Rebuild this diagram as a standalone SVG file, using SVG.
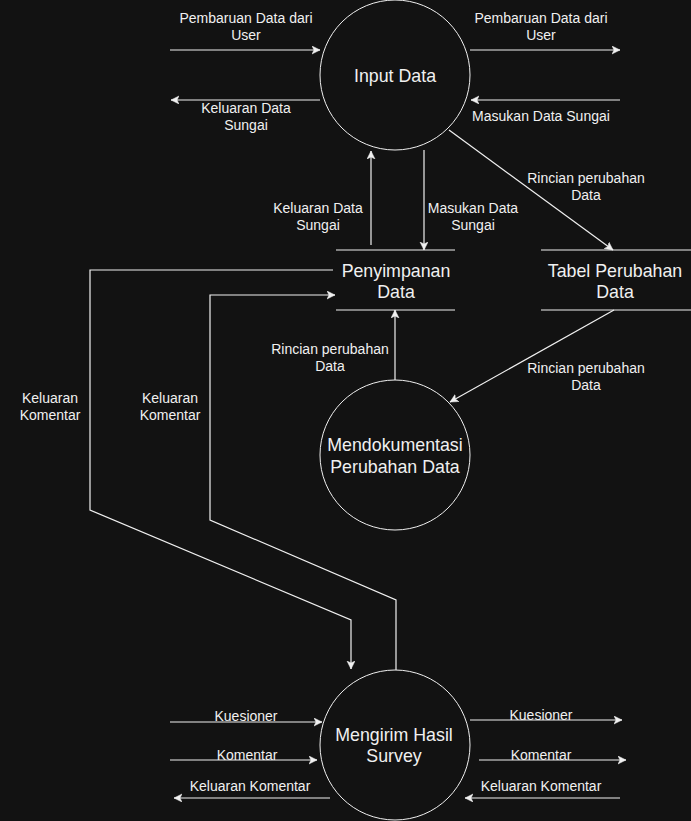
<svg xmlns="http://www.w3.org/2000/svg" width="691" height="821" viewBox="0 0 691 821">
<defs>
<marker id="arr" markerUnits="userSpaceOnUse" markerWidth="10" markerHeight="10" refX="8" refY="4" orient="auto">
<path d="M0,0 L8,4 L0,8 L2,4 z" fill="#f0f0f0" stroke="#f0f0f0" stroke-width="0.5"/>
</marker>
<style>
.bg{fill:#121212}
.node{fill:#121212;stroke:#f0f0f0;stroke-width:1}
.store{stroke:#f0f0f0;stroke-width:1.2;fill:none}
.nt{font-family:"Liberation Sans",Arial,sans-serif;font-size:17.8px;fill:#f0f0f0;text-anchor:middle}
.lt{font-family:"Liberation Sans",Arial,sans-serif;font-size:14px;fill:#f0f0f0;text-anchor:middle}
.edge{fill:none;stroke:#f0f0f0;stroke-width:1.2;marker-end:url(#arr)}
</style>
</defs>
<rect class="bg" x="0" y="0" width="691" height="821"/>

<g id="connectors">
<path class="edge" d="M170,50 H320"/>
<path class="edge" d="M470,50 H620"/>
<path class="edge" d="M320,100 H171"/>
<path class="edge" d="M620,100 H471"/>
<path class="edge" d="M371,245 V151"/>
<path class="edge" d="M424,150 V250"/>
<path class="edge" d="M449,130 L613,250"/>
<path class="edge" d="M614,310 L450,402"/>
<path class="edge" d="M395,380 V310"/>
<path class="edge" d="M333,270 H90 V510 L351,620 V669"/>
<path class="edge" d="M396,670 V600 L210,520 V295 H335"/>
<path class="edge" d="M170,722 H322"/>
<path class="edge" d="M470,720 H622"/>
<path class="edge" d="M170,760 H317"/>
<path class="edge" d="M479,760 H626"/>
<path class="edge" d="M330,798 H174"/>
<path class="edge" d="M620,798 H465"/>

<text class="lt" x="246" y="23">Pembaruan Data dari</text>
<text class="lt" x="246" y="40">User</text>
<text class="lt" x="541" y="23">Pembaruan Data dari</text>
<text class="lt" x="541" y="40">User</text>
<text class="lt" x="246" y="113">Keluaran Data</text>
<text class="lt" x="246" y="130">Sungai</text>
<text class="lt" x="541" y="121">Masukan Data Sungai</text>
<text class="lt" x="318" y="213">Keluaran Data</text>
<text class="lt" x="318" y="230">Sungai</text>
<text class="lt" x="473" y="213">Masukan Data</text>
<text class="lt" x="473" y="230">Sungai</text>
<text class="lt" x="586" y="183">Rincian perubahan</text>
<text class="lt" x="586" y="200">Data</text>
<text class="lt" x="330" y="354">Rincian perubahan</text>
<text class="lt" x="330" y="371">Data</text>
<text class="lt" x="586" y="373">Rincian perubahan</text>
<text class="lt" x="586" y="390">Data</text>
<text class="lt" x="50" y="403">Keluaran</text>
<text class="lt" x="50" y="420">Komentar</text>
<text class="lt" x="170" y="403">Keluaran</text>
<text class="lt" x="170" y="420">Komentar</text>
<text class="lt" x="246" y="721">Kuesioner</text>
<text class="lt" x="541" y="720">Kuesioner</text>
<text class="lt" x="247" y="760">Komentar</text>
<text class="lt" x="541" y="760">Komentar</text>
<text class="lt" x="250" y="791">Keluaran Komentar</text>
<text class="lt" x="541" y="791">Keluaran Komentar</text>
</g>

<g id="input-data">
<circle class="node" cx="395" cy="75" r="75"/>
<text class="nt" x="395" y="82">Input Data</text>
</g>

<g id="penyimpanan-data">
<line class="store" x1="336" y1="250" x2="455" y2="250"/>
<line class="store" x1="336" y1="310" x2="455" y2="310"/>
<text class="nt" x="396" y="277">Penyimpanan</text>
<text class="nt" x="396" y="298">Data</text>
</g>

<g id="tabel-perubahan-data">
<line class="store" x1="541" y1="250" x2="691" y2="250"/>
<line class="store" x1="541" y1="310" x2="691" y2="310"/>
<text class="nt" x="615" y="277">Tabel Perubahan</text>
<text class="nt" x="615" y="298">Data</text>
</g>

<g id="mendokumentasi">
<circle class="node" cx="395" cy="455" r="75"/>
<text class="nt" x="395" y="451">Mendokumentasi</text>
<text class="nt" x="395" y="473">Perubahan Data</text>
</g>

<g id="mengirim-hasil-survey">
<circle class="node" cx="395" cy="745" r="75"/>
<text class="nt" x="394" y="741">Mengirim Hasil</text>
<text class="nt" x="394" y="762">Survey</text>
</g>
</svg>
